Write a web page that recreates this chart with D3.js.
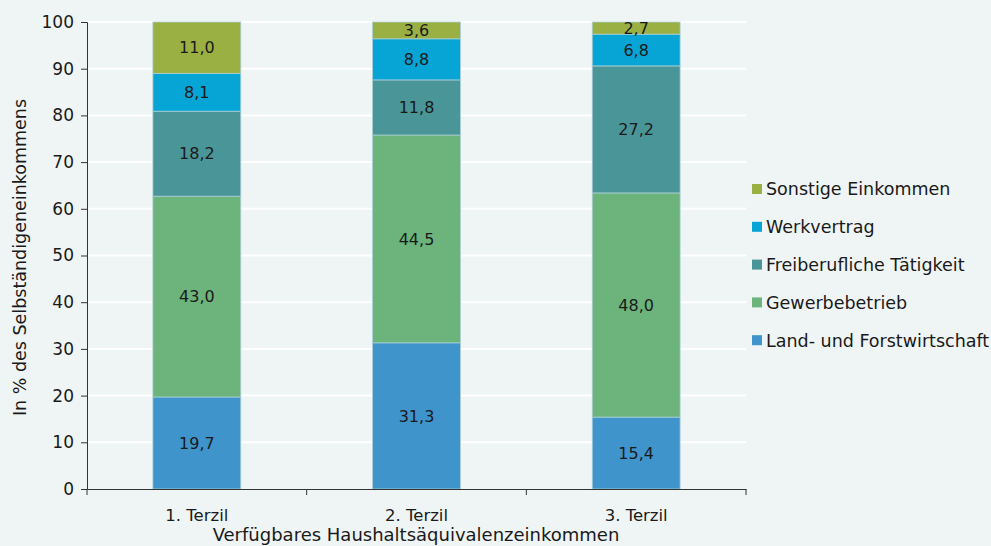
<!DOCTYPE html>
<html>
<head>
<meta charset="utf-8">
<script src="https://cdn.jsdelivr.net/npm/d3@7"></script>
<style>
  body { margin: 0; background: #eff4f4; }
  text { font-family: "DejaVu Sans", sans-serif; fill: #1a1a1a; }
</style>
</head>
<body>
<div class="canva"></div>
<script>
const categories = ["1. Terzil", "2. Terzil", "3. Terzil"];
const seriesNames = ["Land- und Forstwirtschaft", "Gewerbebetrieb", "Freiberufliche Tätigkeit", "Werkvertrag", "Sonstige Einkommen"];
const land = [19.7, 31.3, 15.4];
const gewerbe = [43.0, 44.5, 48.0];
const frei = [18.2, 11.8, 27.2];
const werk = [8.1, 8.8, 6.8];
const sonst = [11.0, 3.6, 2.7];
const yTicks = [0, 10, 20, 30, 40, 50, 60, 70, 80, 90, 100];
const colors = ["#3f94cb", "#6cb47c", "#4a9597", "#07a4d6", "#9bb043"];

const seriesValues = [land, gewerbe, frei, werk, sonst];
const rows = categories.map((c, i) => {
  const r = { cat: c };
  seriesNames.forEach((s, j) => r[s] = seriesValues[j][i]);
  return r;
});

const W = 991, H = 546;
const plotL = 87, plotR = 746, plotT = 22, plotB = 489;

const svg = d3.select(".canva").append("svg")
  .attr("width", W)
  .attr("height", H)
  .style("background", "#eff4f4");

const x = d3.scaleBand().domain(categories).range([plotL, plotR]).padding(0);
const y = d3.scaleLinear().domain([0, 100]).range([plotB, plotT]);

// gridlines
svg.append("g").selectAll("line").data(yTicks.slice(1)).join("line")
  .attr("x1", plotL).attr("x2", plotR)
  .attr("y1", d => y(d)).attr("y2", d => y(d))
  .attr("stroke", "#ffffff").attr("stroke-width", 2);

const stack = d3.stack().keys(seriesNames)(rows);
const barW = x.bandwidth() * 0.4;

const layers = svg.append("g").selectAll("g").data(stack).join("g")
  .attr("fill", (d, i) => colors[i]);

layers.selectAll("rect").data(d => d).join("rect")
  .attr("x", d => x(d.data.cat) + (x.bandwidth() - barW) / 2)
  .attr("width", barW)
  .attr("y", d => y(Math.min(d[1], 100)))
  .attr("height", d => y(d[0]) - y(Math.min(d[1], 100)))
  .attr("stroke", "#a9cfd6")
  .attr("stroke-width", 0.8);

layers.selectAll("text").data(d => d).join("text")
  .attr("x", d => x(d.data.cat) + x.bandwidth() / 2)
  .attr("y", d => (y(d[0]) + y(Math.min(d[1], 100))) / 2)
  .attr("dy", "0.36em")
  .attr("text-anchor", "middle")
  .attr("font-size", 16)
  .text(d => (d[1] - d[0]).toFixed(1).replace(".", ","));

// axes
const yAxis = svg.append("g")
  .attr("transform", `translate(${plotL},0)`)
  .call(d3.axisLeft(y).tickValues(yTicks).tickSize(6).tickPadding(7));
yAxis.select(".domain").attr("stroke", "#333");
yAxis.selectAll(".tick line").attr("stroke", "#333");
yAxis.selectAll("text").attr("font-size", 17).attr("font-family", "DejaVu Sans").attr("fill", "#1a1a1a");

const xAxis = svg.append("g")
  .attr("transform", `translate(0,${plotB})`)
  .call(d3.axisBottom(x).tickSize(0).tickPadding(20));
xAxis.select(".domain").attr("stroke", "#333");
xAxis.selectAll("text").attr("font-size", 16.5).attr("font-family", "DejaVu Sans").attr("fill", "#1a1a1a");

// category boundary ticks
const bounds = categories.map(c => x(c)).concat([plotR]);
svg.append("g").selectAll("line").data(bounds).join("line")
  .attr("x1", d => d).attr("x2", d => d)
  .attr("y1", plotB).attr("y2", plotB + 6)
  .attr("stroke", "#333");

// axis titles
svg.append("text")
  .attr("transform", `translate(20,${(plotT + plotB) / 2 + 2}) rotate(-90)`)
  .attr("dy", "0.36em")
  .attr("text-anchor", "middle")
  .attr("font-size", 17.5)
  .text("In % des Selbständigeneinkommens");

svg.append("text")
  .attr("x", 416)
  .attr("y", 541)
  .attr("text-anchor", "middle")
  .attr("font-size", 18)
  .text("Verfügbares Haushaltsäquivalenzeinkommen");

// legend (reverse order)
const legendItems = seriesNames.map((s, i) => ({ name: s, color: colors[i] })).reverse();
const legend = svg.append("g").selectAll("g").data(legendItems).join("g")
  .attr("transform", (d, i) => `translate(752,${189 + i * 37.8})`);
legend.append("rect")
  .attr("x", 0).attr("y", -5).attr("width", 10).attr("height", 10)
  .attr("fill", d => d.color);
legend.append("text")
  .attr("x", 14).attr("dy", "0.36em")
  .attr("font-size", 17.5)
  .text(d => d.name);
</script>
</body>
</html>
